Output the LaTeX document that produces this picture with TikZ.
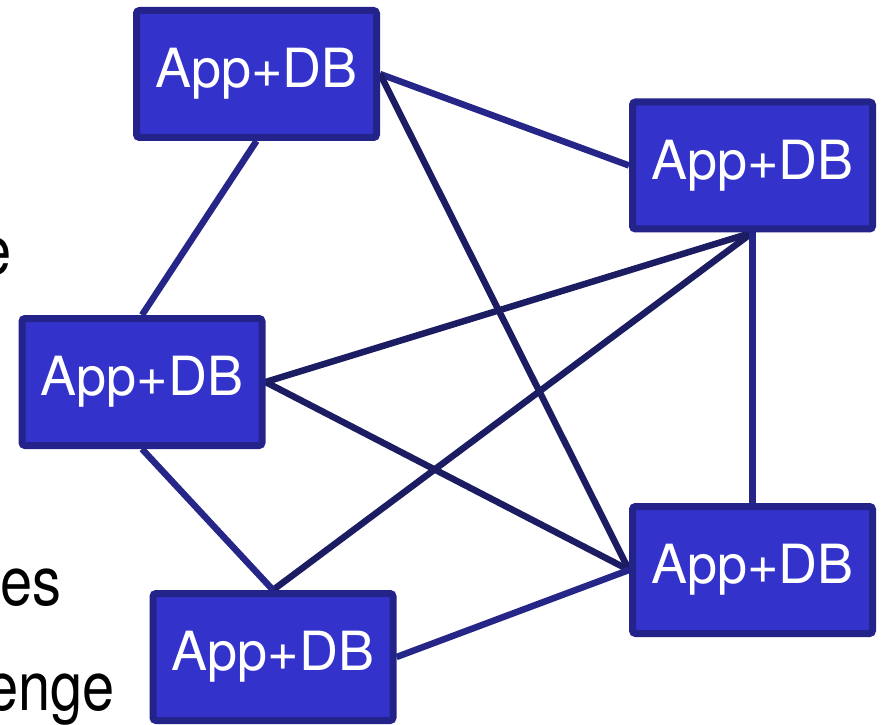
\documentclass[tikz,border=0pt]{standalone}
\usepackage{fontspec}
\setmainfont{TeX Gyre Heros}
\usetikzlibrary{backgrounds,shadows}

\definecolor{boxfill}{RGB}{51,51,204}
\definecolor{boxline}{RGB}{35,35,138}
\definecolor{linklight}{RGB}{38,38,136}
\definecolor{linkdark}{RGB}{28,28,98}

\newcommand{\narrow}[1]{\scalebox{0.85}[1]{#1}}

\begin{document}
\begin{tikzpicture}[
  x=1pt, y=1pt,
  dbnode/.style={draw=boxline, fill=boxfill, line width=7pt, rounded corners=3pt,
    minimum width=240pt, minimum height=127pt, inner sep=0pt,
    text=white, font=\fontsize{54}{62}\selectfont,
    drop shadow={shadow xshift=2pt, shadow yshift=-3pt, opacity=0.25}},
  link/.style={draw=linklight, line width=6.5pt},
  crosslink/.style={draw=linkdark, line width=6.5pt},
  cuttext/.style={anchor=base east, inner sep=0pt, font=\fontsize{68}{80}\selectfont}
]
\useasboundingbox (0,0) rectangle (883,724);
\clip (0,0) rectangle (883,724);

% left margin words, cut off
\node[cuttext] (w1) at (12,449) {\narrow{e}};
\node[cuttext] (w2) at (62,119) {\narrow{es}};
\node[cuttext] (w3) at (115,14) {\narrow{enge}};

% the five replicas
\node[dbnode] (top)   at (256.5,650) {App+DB};
\node[dbnode] (right) at (752.5,558.5) {App+DB};
\node[dbnode] (left)  at (142,342) {App+DB};
\node[dbnode] (lower) at (752.5,154) {App+DB};
\node[dbnode] (bot)   at (273,67) {App+DB};

\begin{scope}[on background layer]
  \draw[link] (top.south) -- (left.north);
  \draw[link] (top.east) -- (right.west);
  \draw[crosslink] (top.east) -- (lower.west);
  \draw[crosslink] (right.south) -- (left.east);
  \draw[crosslink] (right.south) -- (bot.north);
  \draw[link] (right.south) -- (lower.north);
  \draw[crosslink] (left.east) -- (lower.west);
  \draw[link] (left.south) -- (bot.north);
  \draw[link] (bot.east) -- (lower.west);
\end{scope}
\end{tikzpicture}
\end{document}
